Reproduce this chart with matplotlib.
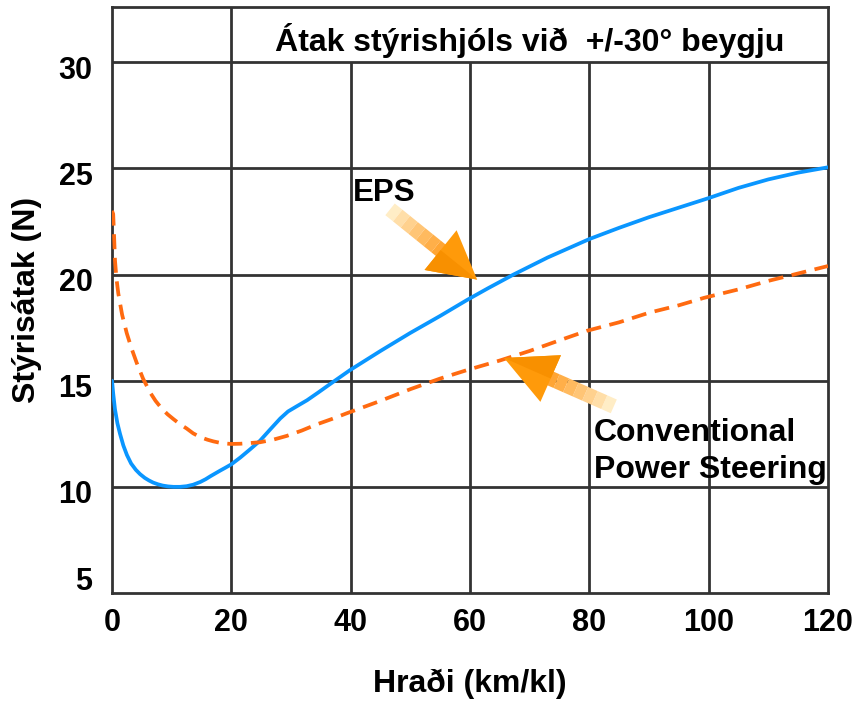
import numpy as np
import matplotlib
matplotlib.use("Agg")
import matplotlib.pyplot as plt
from matplotlib.patches import Polygon
from matplotlib.transforms import ScaledTranslation
from matplotlib.colors import to_rgb

plt.rcParams['font.family'] = ['Liberation Sans', 'DejaVu Sans']
plt.rcParams['font.weight'] = 'bold'

# ---- data ----
eps_x = [0, 0.2, 0.5, 0.9, 1.34, 1.9, 2.5, 3.2, 4.0, 4.7, 5.5, 6.2, 6.9,
         7.7, 8.5, 9.4, 10.3, 11.4, 12.5, 13.6, 14.8, 15.7, 16.5, 17.3, 18.1, 19.0, 20.0,
         21.5, 23.2, 24.8, 26.5, 28.2, 29.5, 31.0, 32.7, 34.6, 36.6, 39.9, 45, 50, 55,
         59.5, 63, 67.3, 73, 80, 85, 90, 95, 100, 105, 110, 115, 120]
eps_y = [15.0, 14.4, 13.65, 13.0, 12.5, 11.95, 11.5, 11.1, 10.8, 10.6, 10.42, 10.3, 10.2,
         10.12, 10.06, 10.02, 10.0, 10.0, 10.03, 10.1, 10.23, 10.36, 10.5, 10.63, 10.76, 10.9, 11.06,
         11.38, 11.78, 12.17, 12.7, 13.22, 13.55, 13.8, 14.08, 14.45, 14.85, 15.5, 16.4, 17.25, 18.05,
         18.8, 19.35, 20.0, 20.8, 21.67, 22.2, 22.7, 23.15, 23.6, 24.08, 24.48, 24.8, 25.05]

cps_x = [0, 0.2, 0.35, 0.5, 0.75, 1.06, 1.7, 2.47, 3.3, 4.14, 5.2, 6.4, 7.3, 8.3, 9.3, 10.3,
         11.4, 12.5, 13.6, 14.8, 16.0, 17.0, 18.0, 19.0, 20.0, 21.5, 23.0, 24.8, 27.0, 29.3,
         31.8, 34.3, 36.9, 39.4, 45, 50, 55, 59.5, 65, 70, 75, 79.6, 85, 90, 95, 99.2,
         105, 110, 115, 120]
cps_y = [23.0, 22.85, 21.8, 20.67, 19.8, 19.1, 18.1, 17.24, 16.5, 15.84, 15.1, 14.44, 14.05, 13.7, 13.42, 13.19,
         12.95, 12.75, 12.52, 12.34, 12.22, 12.14, 12.08, 12.04, 12.02, 12.03, 12.06, 12.1, 12.22, 12.4,
         12.65, 12.94, 13.2, 13.47, 14.05, 14.6, 15.1, 15.5, 15.95, 16.4, 16.9, 17.35, 17.75, 18.2, 18.55, 18.9,
         19.3, 19.7, 20.05, 20.4]

x_ticks = [0, 20, 40, 60, 80, 100, 120]
x_labels = ['0', '20', '40', '60', '80', '100', '120']
y_ticks = [5, 10, 15, 20, 25, 30]
y_labels = ['5', '10', '15', '20', '25', '30']

title_text = 'Átak stýrishjóls við  +/-30° beygju'
xlabel_text = 'Hraði (km/kl)'
ylabel_text = 'Stýrisátak (N)'
eps_label = 'EPS'
cps_label = 'Conventional\nPower Steering'

# arrow annotations (tail, tip) in data coords
eps_arrow = ((46.6, 23.07), (61.2, 19.76))
cps_arrow = ((84.1, 13.79), (65.7, 16.07))

# ---- figure ----
W, H = 853, 704
fig = plt.figure(figsize=(W / 100, H / 100), dpi=100)
ax = fig.add_axes([112 / W, (H - 593) / H, (828 - 112) / W, (593 - 7) / H])
ax.set_xlim(0, 120)
ax.set_ylim(5, 32.6)

grid_c = '#333333'
grid_lw = 2.0
for s in ax.spines.values():
    s.set_color(grid_c)
    s.set_linewidth(grid_lw)

# grid lines
for yv in y_ticks[1:]:
    ax.axhline(yv, color=grid_c, lw=grid_lw, zorder=1)
for xv in x_ticks[1:-1]:
    ymax = 32.6 if xv == 20 else 30
    ax.plot([xv, xv], [5, ymax], color=grid_c, lw=grid_lw, zorder=1, solid_capstyle='butt')

# curves
ax.plot(eps_x, eps_y, color='#0A96FF', lw=2.7, zorder=3, solid_capstyle='round',
        solid_joinstyle='round')
ax.plot(cps_x, cps_y, color='#FF6A10', lw=2.7, zorder=3, dashes=(4.0, 2.3))

# ticks
ax.set_xticks(x_ticks)
ax.set_xticklabels(x_labels, fontsize=22, fontweight='bold')
ax.set_yticks(y_ticks)
ax.set_yticklabels(y_labels, fontsize=22, fontweight='bold')
ax.tick_params(axis='both', length=0)
ax.tick_params(axis='x', pad=11)
ax.tick_params(axis='y', pad=14)

for lab, v in zip(ax.get_yticklabels(), y_ticks):
    dy = 15 if v == 5 else -5
    lab.set_transform(lab.get_transform() + ScaledTranslation(0, dy / 100, fig.dpi_scale_trans))

ax.set_xlabel(xlabel_text, fontsize=23, fontweight='bold', labelpad=22)
ax.set_ylabel(ylabel_text, fontsize=23, fontweight='bold', labelpad=12)

ax.text(70, 31.0, title_text, ha='center', va='center', fontsize=23, fontweight='bold')
ax.text(40.3, 23.85, eps_label, ha='left', va='center', fontsize=22.5, fontweight='bold')
ax.text(80.7, 11.66, cps_label, ha='left', va='center', fontsize=23, fontweight='bold',
        linespacing=1.32)


def grad_arrow(ax, tail, tip, shaft_w=15, head_w=51, head_len=48, n=7):
    T = ax.transData
    inv = T.inverted()
    p0 = np.array(T.transform(tail))
    p1 = np.array(T.transform(tip))
    d = p1 - p0
    L = np.hypot(*d)
    u = d / L
    nv = np.array([-u[1], u[0]])
    base = p1 - u * head_len
    c0 = np.array(to_rgb('#FFF8DC'))
    c1 = np.array(to_rgb('#FFA02A'))
    shaft_end = base + u * 4
    for i in range(n):
        a = p0 + (shaft_end - p0) * (i / n)
        b = p0 + (shaft_end - p0) * ((i + 1) / n)
        t = (i + 0.5) / n
        col = c0 + (c1 - c0) * t ** 0.8
        pts = [a + nv * shaft_w / 2, b + nv * shaft_w / 2, b - nv * shaft_w / 2, a - nv * shaft_w / 2]
        ax.add_patch(Polygon(inv.transform(pts), closed=True, fc=col, ec='none', zorder=4))
    head = [base + nv * head_w / 2, p1, base - nv * head_w / 2]
    ax.add_patch(Polygon(inv.transform(head), closed=True, fc='#FF9A0A', ec='none', zorder=5))
    half = [base, p1, base - nv * head_w / 2]
    ax.add_patch(Polygon(inv.transform(half), closed=True, fc='#F89000', ec='none', zorder=5))


grad_arrow(ax, eps_arrow[0], eps_arrow[1], head_w=51, head_len=47)
grad_arrow(ax, cps_arrow[0], cps_arrow[1], head_w=51, head_len=51)

fig.savefig('out.png', dpi=100, facecolor='white')
